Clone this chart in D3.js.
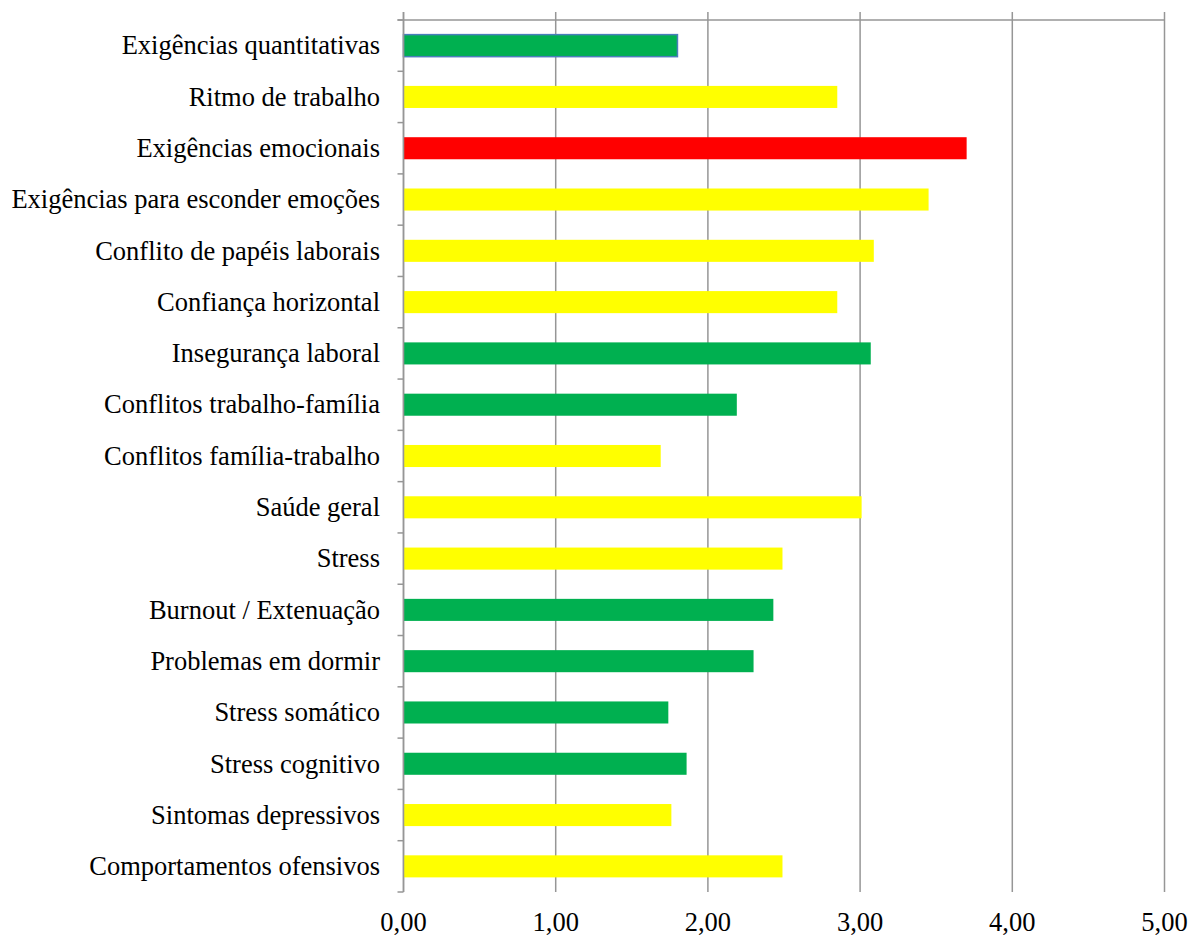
<!DOCTYPE html>
<html>
<head>
<meta charset="utf-8">
<script src="https://cdn.jsdelivr.net/npm/d3@7.9.0/dist/d3.min.js"></script>
<style>
  body { margin: 0; background: #fff; }
</style>
</head>
<body>
<div id="chart"></div>
<script>
// categories, values and colour class per bar
const categories = [
  'Exigências quantitativas', 'Ritmo de trabalho', 'Exigências emocionais',
  'Exigências para esconder emoções', 'Conflito de papéis laborais', 'Confiança horizontal',
  'Insegurança laboral', 'Conflitos trabalho-família', 'Conflitos família-trabalho',
  'Saúde geral', 'Stress', 'Burnout / Extenuação', 'Problemas em dormir',
  'Stress somático', 'Stress cognitivo', 'Sintomas depressivos', 'Comportamentos ofensivos'
];
const values = [1.80, 2.85, 3.70, 3.45, 3.09, 2.85, 3.07, 2.19, 1.69, 3.01, 2.49, 2.43, 2.30, 1.74, 1.86, 1.76, 2.49];
const levels = ['green', 'yellow', 'red', 'yellow', 'yellow', 'yellow', 'green', 'green', 'yellow',
  'yellow', 'yellow', 'green', 'green', 'green', 'green', 'yellow', 'yellow'];
const xTicks = [0, 1, 2, 3, 4, 5];

const colors = { green: '#00b050', yellow: '#ffff00', red: '#ff0000' };
const gridColor = '#969696';
const font = "'Liberation Serif', 'Times New Roman', 'DejaVu Serif', serif";

const width = 1200, height = 938;
const plot = { left: 403.5, right: 1164.5, top: 20, bottom: 892 };

const svg = d3.select('#chart').append('svg')
  .attr('width', width).attr('height', height);

const x = d3.scaleLinear().domain([0, 5]).range([plot.left, plot.right]);
const y = d3.scaleBand().domain(categories).range([plot.top, plot.bottom]).paddingInner(0.57).paddingOuter(0.285);
const yBounds = d3.scaleLinear().domain([0, categories.length]).range([plot.top, plot.bottom]);

// vertical gridlines (extend slightly above the top line as tick marks)
svg.append('g')
  .selectAll('line')
  .data(xTicks)
  .join('line')
  .attr('x1', d => x(d)).attr('x2', d => x(d))
  .attr('y1', plot.top - 8).attr('y2', plot.bottom)
  .attr('stroke', gridColor).attr('stroke-width', 1.5);

// top line
svg.append('line')
  .attr('x1', plot.left - 6).attr('x2', plot.right)
  .attr('y1', plot.top).attr('y2', plot.top)
  .attr('stroke', gridColor).attr('stroke-width', 1.5);

// category tick marks on the left
svg.append('g')
  .selectAll('line')
  .data(d3.range(categories.length + 1))
  .join('line')
  .attr('x1', plot.left - 6).attr('x2', plot.left)
  .attr('y1', d => yBounds(d)).attr('y2', d => yBounds(d))
  .attr('stroke', gridColor).attr('stroke-width', 1.5);

// bars
svg.append('g')
  .selectAll('rect')
  .data(categories)
  .join('rect')
  .attr('x', x(0))
  .attr('y', d => y(d))
  .attr('width', (d, i) => x(values[i]) - x(0))
  .attr('height', y.bandwidth())
  .attr('fill', (d, i) => colors[levels[i]])
  .attr('stroke', (d, i) => i === 0 ? '#4a7ebb' : 'none')
  .attr('stroke-width', 1.5);

// left axis line
svg.append('line')
  .attr('x1', plot.left).attr('x2', plot.left)
  .attr('y1', plot.top - 8).attr('y2', plot.bottom)
  .attr('stroke', gridColor).attr('stroke-width', 1.5);

// category labels
svg.append('g')
  .selectAll('text')
  .data(categories)
  .join('text')
  .attr('x', 380)
  .attr('y', d => y(d) + y.bandwidth() / 2)
  .attr('dy', '0.33em')
  .attr('text-anchor', 'end')
  .attr('font-family', font)
  .attr('font-size', 26.5)
  .attr('fill', '#000')
  .text(d => d);

// value labels
const fmt = d => d3.format('.2f')(d).replace('.', ',');
svg.append('g')
  .selectAll('text')
  .data(xTicks)
  .join('text')
  .attr('x', d => x(d))
  .attr('y', 931)
  .attr('text-anchor', 'middle')
  .attr('font-family', font)
  .attr('font-size', 26.5)
  .attr('fill', '#000')
  .text(fmt);
</script>
</body>
</html>
